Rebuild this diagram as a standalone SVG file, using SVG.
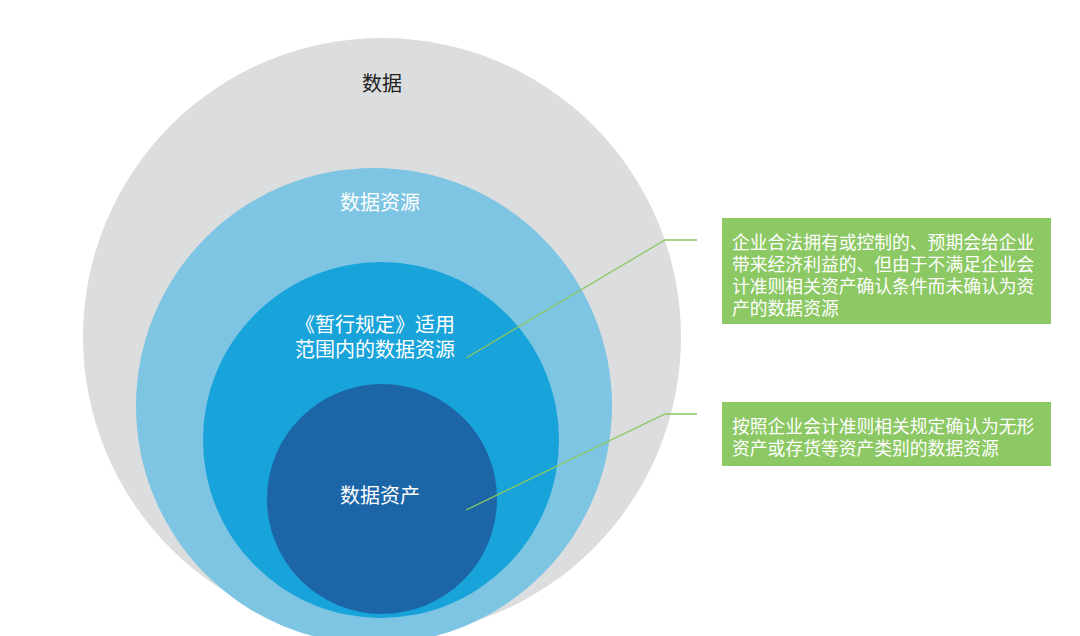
<svg xmlns="http://www.w3.org/2000/svg" width="1080" height="636" viewBox="0 0 1080 636">
<style>
.t{font-family:"Liberation Sans","Noto Sans CJK SC",sans-serif;font-size:20px;text-anchor:middle}
.b{font-family:"Liberation Sans","Noto Sans CJK SC",sans-serif;font-size:17.8px;fill:#fff}
.box{fill:#8cc863}
.ln{fill:none;stroke:#8cc863;stroke-width:1.3}
</style>
<rect width="1080" height="636" fill="#fff"/>
<g id="n-data"><circle cx="382" cy="337" r="299" fill="#dcddde"/><text class="t" x="382" y="91" fill="#222">数据</text></g>
<g id="n-resource"><circle cx="374" cy="406" r="238" fill="#7ec5e3"/><text class="t" x="380" y="210" fill="#fff">数据资源</text></g>
<g id="n-scope"><circle cx="381" cy="440" r="178" fill="#18a3da"/><text class="t" x="375" y="332" fill="#fff">《暂行规定》适用</text><text class="t" x="375" y="357" fill="#fff">范围内的数据资源</text></g>
<g id="n-asset"><circle cx="382" cy="499" r="115" fill="#1c66a8"/><text class="t" x="380" y="503" fill="#fff">数据资产</text></g>
<g id="connectors">
<polyline class="ln" points="466,358 665,240 697,240"/>
<polyline class="ln" points="466,510 665,414 697,414"/>
</g>
<g id="n-box1"><rect class="box" x="722" y="218" width="329" height="106"/>
<text class="b" x="732" y="249">企业合法拥有或控制的、预期会给企业</text>
<text class="b" x="732" y="271">带来经济利益的、但由于不满足企业会</text>
<text class="b" x="732" y="293">计准则相关资产确认条件而未确认为资</text>
<text class="b" x="732" y="315">产的数据资源</text></g>
<g id="n-box2"><rect class="box" x="722" y="402" width="329" height="64"/>
<text class="b" x="732" y="433">按照企业会计准则相关规定确认为无形</text>
<text class="b" x="732" y="455">资产或存货等资产类别的数据资源</text></g>
</svg>
